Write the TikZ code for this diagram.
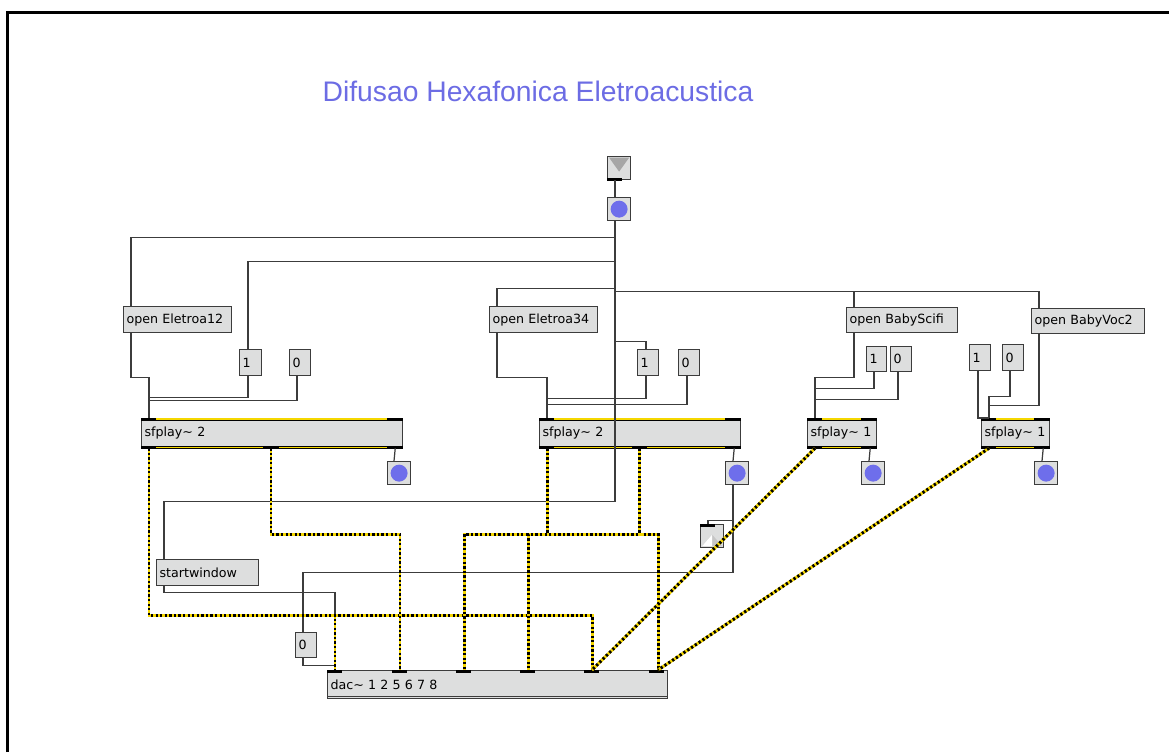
\documentclass[tikz,border=0pt]{standalone}
\usepackage{fontspec}
\setmainfont{DejaVu Sans}
\newfontfamily\titlefont{Liberation Sans}
\usepackage{xcolor}
\definecolor{maxgray}{RGB}{221,222,222}
\definecolor{maxline}{RGB}{60,60,60}
\definecolor{maxblue}{RGB}{110,110,235}
\definecolor{titleblue}{RGB}{108,108,228}
\definecolor{sigyellow}{RGB}{245,215,0}
\newcommand{\pxu}{0.02cm}

\tikzset{
  wire/.style={maxline, line width=0.7pt},
  sig/.style={black, line width=1.7pt, dash pattern=on 1.3pt off 1.3pt,
    preaction={draw=sigyellow, line width=1.7pt, solid}},
  msgbox/.style={draw=maxline, fill=maxgray, line width=0.7pt, anchor=north west,
    inner xsep=3*\pxu, inner ysep=0pt, minimum height=26*\pxu,
    text width=#1*\pxu-6*\pxu, align=left, font=\fontsize{7.2}{8}\selectfont},
  objbox/.style={msgbox=#1, minimum height=29*\pxu},
  btn/.style={draw=maxline, fill=maxgray, line width=0.7pt, anchor=north west,
    minimum size=23*\pxu, inner sep=0pt,
    path picture={\fill[maxblue] (path picture bounding box.center) circle[radius=8.5*\pxu];}},
  bar/.style={black, line width=1.7pt},
  band/.style={sigyellow, line width=0.6pt},
}

\begin{document}
\begin{tikzpicture}[x=0.02cm, y=-0.02cm]
    \useasboundingbox (0,0) rectangle (1169,752);

    % Frame
    \draw[line width=1.7pt] (7.5,752) -- (7.5,12.5) -- (1169,12.5);

    % Title
    \node[font=\titlefont\fontsize{16.1}{18}\selectfont, text=titleblue] (title) at (538,91) {Difusao Hexafonica Eletroacustica};

    % Inlet and bang
    \node[msgbox=23, minimum height=23*\pxu] (inl) at (607,156) {};
    \fill[gray!70] ([shift={(2,1.5)}]inl.north west) -- ([shift={(-2,1.5)}]inl.north east) -- ([shift={(0,3.5)}]inl.center) -- cycle;
    \draw[bar] ([shift={(0,-1)}]inl.south west) -- ++(15,0);
    \node[btn] (b0) at (607,197) {};

    % Group 1
    \node[msgbox=108] (o12) at (123,306) {open Eletroa12};
    \node[msgbox=22] (one12) at (239,349) {1};
    \node[msgbox=21] (zero12) at (289,349) {0};
    \node[objbox=261] (sfA) at (141,418) {sfplay\char`\~{} 2};
    \node[btn] (btnA) at (387,461) {};

    % Group 2
    \node[msgbox=108] (o34) at (489,306) {open Eletroa34};
    \node[msgbox=21] (one34) at (637,349) {1};
    \node[msgbox=21] (zero34) at (678,349) {0};
    \node[objbox=201] (sfB) at (539,418) {sfplay\char`\~{} 2};
    \node[btn] (btnB) at (725,461) {};

    % Group 3
    \node[msgbox=111, minimum height=25*\pxu] (oSci) at (846,307) {open BabyScifi};
    \node[msgbox=20, minimum height=25*\pxu] (oneSci) at (866,346) {1};
    \node[msgbox=21, minimum height=25*\pxu] (zeroSci) at (890,346) {0};
    \node[objbox=69] (sfC) at (807,418) {sfplay\char`\~{} 1};
    \node[btn] (btnC) at (861,461) {};

    % Group 4
    \node[msgbox=113, minimum height=25*\pxu] (oVoc) at (1031,308) {open BabyVoc2};
    \node[msgbox=21] (oneVoc) at (969,344) {1};
    \node[msgbox=21] (zeroVoc) at (1002,344) {0};
    \node[objbox=68] (sfD) at (981,418) {\mbox{sfplay\char`\~{} 1}};
    \node[btn] (btnD) at (1034,461) {};

    % Outlet, startwindow, dac
    \node[msgbox=23, minimum height=23*\pxu] (outl) at (700,524) {};
    \fill[gray!45] ([shift={(2,-2)}]outl.south west) -- ([shift={(-2,-2)}]outl.south east) -- ([shift={(0,-1.5)}]outl.center) -- cycle;
    \fill[white] ([shift={(2,-2)}]outl.south west) -- ([shift={(0,-2)}]outl.south) -- ([shift={(0,-1.5)}]outl.center) -- cycle;
    \draw[bar] ([shift={(0,1)}]outl.north west) -- ++(15,0);
    \node[msgbox=102] (start) at (156,559) {startwindow};
    \node[msgbox=21, minimum height=25*\pxu] (zeroS) at (295,632) {0};
    \node[objbox=340, minimum height=28*\pxu] (dac) at (327,670) {dac\char`\~{} 1 2 5 6 7 8};
    \draw[maxline, line width=0.7pt] ([shift={(0,-3)}]dac.south west) -- ([shift={(0,-3)}]dac.south east);
    \foreach \o in {0,65,129,193,257,322}
        \draw[bar] ([shift={(\o,1)}]dac.north west) -- ++(15,0);

    % sfplay edges
    \foreach \n in {sfA,sfB,sfC,sfD} {
        \draw[bar] ([shift={(0,1)}]\n.north west) -- ([shift={(0,1)}]\n.north east);
        \draw[bar] ([shift={(0,-1)}]\n.south west) -- ([shift={(0,-1)}]\n.south east);
        \draw[band] ([shift={(15,1)}]\n.north west) -- ([shift={(-16,1)}]\n.north east);
    }
    \draw[band] ([shift={(15,-1)}]sfA.south west) -- ++(107,0);
    \draw[band] ([shift={(138,-1)}]sfA.south west) -- ([shift={(-16,-1)}]sfA.south east);
    \draw[band] ([shift={(15,-1)}]sfB.south west) -- ++(78,0);
    \draw[band] ([shift={(108,-1)}]sfB.south west) -- ([shift={(-16,-1)}]sfB.south east);
    \draw[band] ([shift={(15,-1)}]sfC.south west) -- ([shift={(-16,-1)}]sfC.south east);
    \draw[band] ([shift={(15,-1)}]sfD.south west) -- ([shift={(-16,-1)}]sfD.south east);

    % Bang fan-out
    \draw[wire] ([shift={(8,0)}]inl.south west) -- ([shift={(8,0)}]b0.north west);
    \draw[wire] ([shift={(8,0)}]b0.south west) -- ++(0,16) -| ([shift={(8,0)}]o12.north west);
    \draw[wire] ([shift={(8,0)}]b0.south west) -- ++(0,40) -| ([shift={(9,0)}]one12.north west);
    \draw[wire] ([shift={(8,0)}]b0.south west) -- ++(0,67) -| ([shift={(8,0)}]o34.north west);
    \draw[wire] ([shift={(8,0)}]b0.south west) -- ++(0,70) -| ([shift={(8,0)}]oSci.north west);
    \draw[wire] ([shift={(8,0)}]b0.south west) -- ++(0,70) -| ([shift={(8,0)}]oVoc.north west);
    \draw[wire] ([shift={(8,0)}]b0.south west) -- ++(0,120) -| ([shift={(9,0)}]one34.north west);
    \draw[wire] ([shift={(8,0)}]b0.south west) -- ++(0,280) -| ([shift={(8,0)}]start.north west);

    % Messages into sfplay~
    \draw[wire] ([shift={(8,0)}]o12.south west) -- ++(0,44) -| ([shift={(8,0)}]sfA.north west);
    \draw[wire] ([shift={(9,0)}]one12.south west) -- ++(0,21) -| ([shift={(8,0)}]sfA.north west);
    \draw[wire] ([shift={(8,0)}]zero12.south west) -- ++(0,24) -| ([shift={(8,0)}]sfA.north west);
    \draw[wire] ([shift={(8,0)}]o34.south west) -- ++(0,44) -| ([shift={(8,0)}]sfB.north west);
    \draw[wire] ([shift={(9,0)}]one34.south west) -- ++(0,22) -| ([shift={(8,0)}]sfB.north west);
    \draw[wire] ([shift={(9,0)}]zero34.south west) -- ++(0,28) -| ([shift={(8,0)}]sfB.north west);
    \draw[wire] ([shift={(8,0)}]oSci.south west) -- ++(0,44) -| ([shift={(8,0)}]sfC.north west);
    \draw[wire] ([shift={(8,0)}]oneSci.south west) -- ++(0,16) -| ([shift={(8,0)}]sfC.north west);
    \draw[wire] ([shift={(8,0)}]zeroSci.south west) -- ++(0,27) -| ([shift={(8,0)}]sfC.north west);
    \draw[wire] ([shift={(8,0)}]oVoc.south west) -- ++(0,71) -| ([shift={(8,0)}]sfD.north west);
    \draw[wire] ([shift={(8,0)}]zeroVoc.south west) -- ++(0,25) -| ([shift={(8,0)}]sfD.north west);
    \draw[wire] ([shift={(9,0)}]oneVoc.south west) |- ([shift={(8,0)}]sfD.north west);

    % End-of-file bangs
    \draw[wire] ([shift={(-8,0)}]sfA.south east) -- ([shift={(7,0)}]btnA.north west);
    \draw[wire] ([shift={(-7,0)}]sfB.south east) -- ([shift={(8,0)}]btnB.north west);
    \draw[wire] ([shift={(-7,0)}]sfC.south east) -- ([shift={(8,0)}]btnC.north west);
    \draw[wire] ([shift={(-7,0)}]sfD.south east) -- ([shift={(8,0)}]btnD.north west);
    \draw[wire] ([shift={(8,0)}]btnB.south west) -- ++(0,87) -| ([shift={(8,0)}]zeroS.north west);
    \draw[wire] ([shift={(8,0)}]btnB.south west) -- ++(0,35) -| ([shift={(8,0)}]outl.north west);
    \draw[wire] ([shift={(8,0)}]zeroS.south west) -- ++(0,7) -| ([shift={(8,0)}]dac.north west);
    \draw[wire] ([shift={(8,0)}]start.south west) -- ++(0,6) -| ([shift={(8,0)}]dac.north west);

    % Signal cords
    \draw[sig] ([shift={(8,0)}]sfA.south west) -- ++(0,167) -| ([shift={(8,0)}]dac.north west);
    \draw[sig] ([shift={(8,0)}]sfA.south west) -- ++(0,167) -| ([shift={(265,0)}]dac.north west);
    \draw[sig] ([shift={(130,0)}]sfA.south west) -- ++(0,86) -| ([shift={(73,0)}]dac.north west);
    \draw[sig] ([shift={(8,0)}]sfB.south west) -- ++(0,86) -| ([shift={(137,0)}]dac.north west);
    \draw[sig] ([shift={(8,0)}]sfB.south west) -- ++(0,86) -| ([shift={(331,0)}]dac.north west);
    \draw[sig] ([shift={(100,0)}]sfB.south west) -- ++(0,86) -| ([shift={(201,0)}]dac.north west);
    \draw[sig] ([shift={(8,0)}]sfC.south west) -- ([shift={(265,0)}]dac.north west);
    \draw[sig] ([shift={(8,0)}]sfD.south west) -- ([shift={(331,0)}]dac.north west);
\end{tikzpicture}
\end{document}
